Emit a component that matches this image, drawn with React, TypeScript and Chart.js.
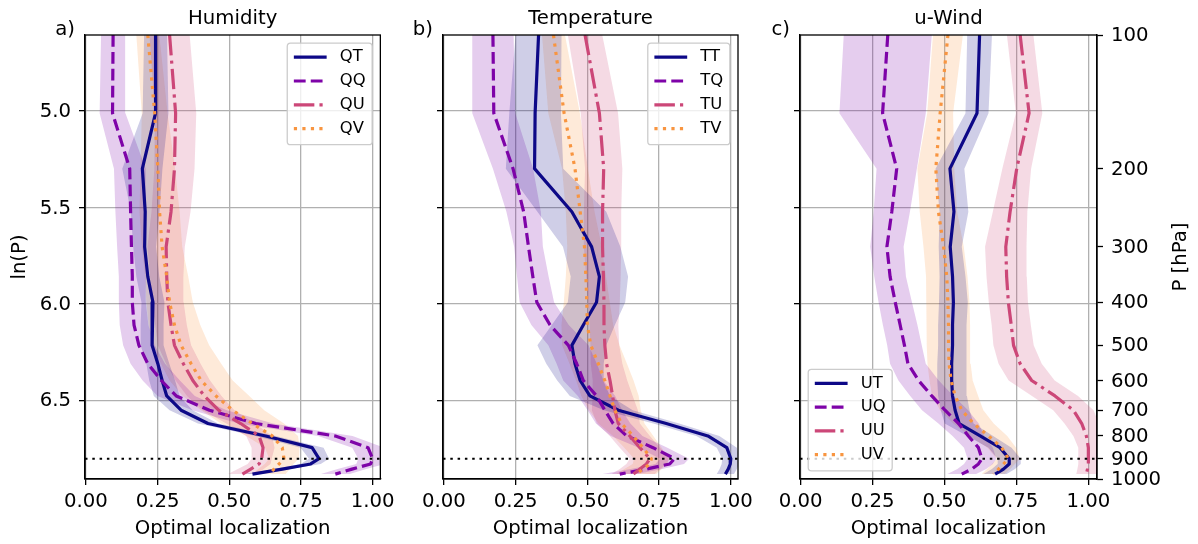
import React, { useEffect, useRef } from "react";
import { Chart, registerables } from "chart.js";

Chart.register(...registerables);

// ---------------- data ----------------
const LEVELS_HPA = [100, 150, 200, 250, 300, 350, 400, 450, 500, 550, 600, 650, 700, 750, 800, 850, 900, 925, 950, 975];
const X_TICKS = [0, 0.25, 0.5, 0.75, 1.0];
const LNP_TICKS = [5.0, 5.5, 6.0, 6.5];
const P_TICKS = [100, 200, 300, 400, 500, 600, 700, 800, 900, 1000];
const P_TOP = 100;
const P_BOTTOM = 1000;
const P_REF = 900;

// a) Humidity
const QT = [0.243, 0.243, 0.197, 0.207, 0.205, 0.216, 0.234, 0.231, 0.231, 0.251, 0.266, 0.282, 0.332, 0.426, 0.627, 0.789, 0.813, 0.784, 0.685, 0.581];
const QQ = [0.095, 0.093, 0.153, 0.156, 0.159, 0.162, 0.162, 0.168, 0.185, 0.216, 0.263, 0.315, 0.431, 0.593, 0.870, 0.984, 1.0, 0.993, 0.928, 0.870];
const QU = [0.292, 0.313, 0.309, 0.297, 0.280, 0.282, 0.286, 0.297, 0.309, 0.340, 0.373, 0.413, 0.463, 0.540, 0.604, 0.618, 0.613, 0.604, 0.575, 0.546];
const QV = [0.216, 0.240, 0.251, 0.257, 0.266, 0.282, 0.292, 0.309, 0.332, 0.367, 0.402, 0.454, 0.512, 0.581, 0.650, 0.685, 0.691, 0.674, 0.656, 0.639];
const QT_SPREAD = [0.04, 0.045, 0.07, 0.05, 0.04, 0.04, 0.04, 0.04, 0.04, 0.04, 0.045, 0.045, 0.04, 0.035, 0.035, 0.04, 0.035, 0.035, 0.03, 0.03];
const QQ_SPREAD = [0.042, 0.045, 0.055, 0.053, 0.05, 0.047, 0.047, 0.05, 0.055, 0.06, 0.065, 0.065, 0.06, 0.06, 0.06, 0.055, 0.05, 0.05, 0.05, 0.05];
const QU_SPREAD = [0.07, 0.072, 0.07, 0.068, 0.065, 0.058, 0.055, 0.055, 0.058, 0.06, 0.06, 0.06, 0.055, 0.05, 0.045, 0.04, 0.035, 0.04, 0.045, 0.05];
const QV_SPREAD = [0.04, 0.045, 0.06, 0.07, 0.07, 0.075, 0.081, 0.09, 0.098, 0.105, 0.11, 0.116, 0.11, 0.11, 0.09, 0.06, 0.052, 0.05, 0.055, 0.058];

// b) Temperature
const TT = [0.330, 0.318, 0.316, 0.446, 0.515, 0.542, 0.532, 0.486, 0.446, 0.457, 0.475, 0.509, 0.608, 0.775, 0.920, 0.986, 1.0, 0.998, 0.991, 0.981];
const TQ = [0.171, 0.174, 0.241, 0.278, 0.295, 0.310, 0.324, 0.370, 0.434, 0.463, 0.486, 0.532, 0.561, 0.590, 0.637, 0.729, 0.804, 0.787, 0.706, 0.613];
const TU = [0.492, 0.542, 0.557, 0.553, 0.553, 0.556, 0.558, 0.558, 0.561, 0.567, 0.579, 0.588, 0.596, 0.608, 0.648, 0.683, 0.718, 0.706, 0.683, 0.660];
const TV = [0.382, 0.419, 0.457, 0.475, 0.490, 0.495, 0.498, 0.500, 0.512, 0.538, 0.561, 0.579, 0.596, 0.619, 0.660, 0.694, 0.723, 0.718, 0.694, 0.671];
const TT_SPREAD = [0.08, 0.09, 0.1, 0.12, 0.1, 0.1, 0.1, 0.11, 0.12, 0.1, 0.08, 0.07, 0.05, 0.045, 0.04, 0.035, 0.03, 0.03, 0.03, 0.03];
const TQ_SPREAD = [0.072, 0.075, 0.07, 0.06, 0.05, 0.055, 0.06, 0.065, 0.07, 0.07, 0.07, 0.065, 0.06, 0.06, 0.055, 0.05, 0.05, 0.05, 0.055, 0.06];
const TU_SPREAD = [0.06, 0.065, 0.065, 0.065, 0.065, 0.06, 0.055, 0.05, 0.05, 0.055, 0.06, 0.07, 0.08, 0.075, 0.07, 0.07, 0.07, 0.07, 0.07, 0.075];
const TV_SPREAD = [0.04, 0.055, 0.045, 0.05, 0.06, 0.07, 0.08, 0.09, 0.1, 0.1, 0.1, 0.1, 0.09, 0.08, 0.07, 0.065, 0.06, 0.06, 0.065, 0.07];

// c) u-Wind
const UT = [0.622, 0.613, 0.519, 0.533, 0.520, 0.528, 0.531, 0.528, 0.528, 0.525, 0.525, 0.528, 0.537, 0.551, 0.624, 0.693, 0.725, 0.725, 0.705, 0.676];
const UQ = [0.303, 0.285, 0.334, 0.317, 0.300, 0.311, 0.329, 0.346, 0.361, 0.373, 0.410, 0.456, 0.502, 0.549, 0.583, 0.618, 0.630, 0.618, 0.595, 0.560];
const UU = [0.763, 0.794, 0.751, 0.728, 0.713, 0.716, 0.722, 0.732, 0.740, 0.763, 0.803, 0.884, 0.948, 0.977, 0.993, 1.0, 1.0, 1.0, 0.997, 0.993];
const UV = [0.512, 0.485, 0.470, 0.479, 0.497, 0.508, 0.512, 0.514, 0.514, 0.516, 0.523, 0.537, 0.560, 0.601, 0.653, 0.699, 0.722, 0.705, 0.688, 0.670];
const UT_SPREAD = [0.043, 0.04, 0.05, 0.05, 0.04, 0.045, 0.05, 0.05, 0.05, 0.05, 0.05, 0.05, 0.05, 0.05, 0.045, 0.04, 0.04, 0.04, 0.04, 0.04];
const UQ_SPREAD = [0.153, 0.15, 0.07, 0.063, 0.058, 0.055, 0.058, 0.06, 0.06, 0.062, 0.07, 0.075, 0.08, 0.07, 0.055, 0.05, 0.05, 0.05, 0.05, 0.05];
const UU_SPREAD = [0.046, 0.046, 0.05, 0.06, 0.072, 0.07, 0.068, 0.068, 0.07, 0.075, 0.08, 0.08, 0.07, 0.06, 0.045, 0.035, 0.035, 0.035, 0.035, 0.035];
const UV_SPREAD = [0.052, 0.045, 0.064, 0.065, 0.07, 0.072, 0.075, 0.075, 0.075, 0.075, 0.075, 0.08, 0.075, 0.07, 0.065, 0.05, 0.04, 0.04, 0.04, 0.04];

// ---------------- styles ----------------
const FONT = "'DejaVu Sans'";
const FS = 19.7;
const LEGEND_FS = 16.4;
const TITLE_FS = 19.7;
const H = 544;
const LW = 3.2;
const COLORS = ["#0d0887", "#7e03a8", "#cc4778", "#f89540"];
const BAND_COLORS = ["rgba(13,8,135,0.2)", "rgba(126,3,168,0.2)", "rgba(204,71,120,0.2)", "rgba(248,149,64,0.2)"];
const DASHES: number[][] = [[], [11.8, 5.1], [20.5, 5.1, 3.2, 5.1], [3.2, 5.3]];
const GRID = "#b0b0b0";

type Series = { label: string; values: number[]; spread: number[] };
type PanelCfg = {
  letter: string;
  title: string;
  series: Series[];
  legend: "upper right" | "lower left";
  leftLabels: boolean;
  rightAxis: boolean;
  xMin: number;
  xMax: number;
  canvasLeft: number;
  canvasWidth: number;
  leftAxisWidth: number;
  rightPad: number;
};

const PANELS: PanelCfg[] = [
  {
    letter: "a)", title: "Humidity", legend: "upper right", leftLabels: true, rightAxis: false,
    xMin: -0.003, xMax: 1.027, canvasLeft: 0, canvasWidth: 400, leftAxisWidth: 85, rightPad: 18,
    series: [
      { label: "QT", values: QT, spread: QT_SPREAD },
      { label: "QQ", values: QQ, spread: QQ_SPREAD },
      { label: "QU", values: QU, spread: QU_SPREAD },
      { label: "QV", values: QV, spread: QV_SPREAD },
    ],
  },
  {
    letter: "b)", title: "Temperature", legend: "upper right", leftLabels: false, rightAxis: false,
    xMin: -0.003, xMax: 1.025, canvasLeft: 400, canvasWidth: 360, leftAxisWidth: 43, rightPad: 22,
    series: [
      { label: "TT", values: TT, spread: TT_SPREAD },
      { label: "TQ", values: TQ, spread: TQ_SPREAD },
      { label: "TU", values: TU, spread: TU_SPREAD },
      { label: "TV", values: TV, spread: TV_SPREAD },
    ],
  },
  {
    letter: "c)", title: "u-Wind", legend: "lower left", leftLabels: false, rightAxis: true,
    xMin: -0.002, xMax: 1.03, canvasLeft: 760, canvasWidth: 438, leftAxisWidth: 40, rightPad: 0,
    series: [
      { label: "UT", values: UT, spread: UT_SPREAD },
      { label: "UQ", values: UQ, spread: UQ_SPREAD },
      { label: "UU", values: UU, spread: UU_SPREAD },
      { label: "UV", values: UV, spread: UV_SPREAD },
    ],
  },
];

// ---------------- decoration plugin ----------------
const decorPlugin = {
  id: "decor",
  afterDraw(chart: any, _args: any, opts: any) {
    const ctx: CanvasRenderingContext2D = chart.ctx;
    const a = chart.chartArea;
    ctx.save();
    ctx.setLineDash([]);
    ctx.strokeStyle = "#000";
    ctx.lineWidth = 1.3;
    ctx.strokeRect(a.left, a.top, a.right - a.left, a.bottom - a.top);

    ctx.fillStyle = "#000";
    ctx.font = `${TITLE_FS}px ${FONT}`;
    ctx.textBaseline = "alphabetic";
    ctx.textAlign = "center";
    ctx.fillText(opts.title, (a.left + a.right) / 2, a.top - 11);
    ctx.textAlign = "right";
    ctx.fillText(opts.letter, a.left - 10, a.top);

    if (opts.rightTitle) {
      ctx.save();
      ctx.font = `${FS}px ${FONT}`;
      ctx.translate(a.right + 83.5, (a.top + a.bottom) / 2);
      ctx.rotate(-Math.PI / 2);
      ctx.textAlign = "center";
      ctx.textBaseline = "middle";
      ctx.fillText(opts.rightTitle, 0, 0);
      ctx.restore();
    }

    // legend
    const items = chart.data.datasets
      .filter((d: any) => d.legendRank !== undefined)
      .sort((p: any, q: any) => p.legendRank - q.legendRank);
    ctx.font = `${LEGEND_FS}px ${FONT}`;
    const maxW = Math.max(...items.map((d: any) => ctx.measureText(d.label).width));
    const pad = 6.6, handleLen = 32.8, gap = 13.1, axPad = 8.2, pitch = 23.8;
    const w = pad + handleLen + gap + maxW + pad;
    const h = 101.5;
    const left = opts.legend === "upper right" ? a.right - axPad - w : a.left + axPad;
    const top = opts.legend === "upper right" ? a.top + axPad : a.bottom - axPad - h;
    ctx.beginPath();
    if ((ctx as any).roundRect) (ctx as any).roundRect(left, top, w, h, 3.3);
    else ctx.rect(left, top, w, h);
    ctx.fillStyle = "rgba(255,255,255,0.8)";
    ctx.fill();
    ctx.strokeStyle = "#cccccc";
    ctx.lineWidth = 1.3;
    ctx.stroke();
    items.forEach((d: any, i: number) => {
      const cy = top + 14 + i * pitch;
      ctx.beginPath();
      ctx.strokeStyle = d.borderColor;
      ctx.lineWidth = d.borderWidth;
      ctx.setLineDash(d.borderDash || []);
      ctx.lineCap = "butt";
      ctx.moveTo(left + pad, cy);
      ctx.lineTo(left + pad + handleLen, cy);
      ctx.stroke();
      ctx.setLineDash([]);
      ctx.fillStyle = "#000";
      ctx.textAlign = "left";
      ctx.textBaseline = "middle";
      ctx.fillText(d.label, left + pad + handleLen + gap, cy);
    });
    ctx.restore();
  },
};

function Panel({ cfg }: { cfg: PanelCfg }) {
  const ref = useRef<HTMLCanvasElement>(null);
  useEffect(() => {
    const canvas = ref.current;
    if (!canvas) return;
    const lnP = LEVELS_HPA.map((p) => Math.log(p));
    const datasets: any[] = [];
    // reference level (dotted)
    datasets.push({
      label: "ref",
      data: [
        { x: cfg.xMin, y: Math.log(P_REF) },
        { x: cfg.xMax, y: Math.log(P_REF) },
      ],
      borderColor: "#000",
      borderWidth: 2,
      borderDash: [2.5, 4.8],
      pointRadius: 0,
      fill: false,
      order: 0,
    });
    cfg.series.forEach((s, k) => {
      datasets.push({
        label: s.label,
        legendRank: k,
        data: s.values.map((v, i) => ({ x: v, y: lnP[i] })),
        borderColor: COLORS[k],
        backgroundColor: COLORS[k],
        borderWidth: LW,
        borderDash: DASHES[k],
        borderCapStyle: "butt",
        borderJoinStyle: "round",
        pointRadius: 0,
        fill: false,
        order: 4 - k,
      });
      const lower = s.values.map((v, i) => ({ x: v - s.spread[i], y: lnP[i] }));
      const upper = s.values.map((v, i) => ({ x: v + s.spread[i], y: lnP[i] })).reverse();
      datasets.push({
        label: s.label + " band",
        data: [...lower, ...upper],
        borderWidth: 0,
        borderColor: "rgba(0,0,0,0)",
        backgroundColor: BAND_COLORS[k],
        pointRadius: 0,
        fill: "shape",
        order: 10 + k,
      });
    });

    const tickFont = { family: FONT, size: FS };
    const scales: any = {
      x: {
        type: "linear",
        position: "bottom",
        min: cfg.xMin,
        max: cfg.xMax,
        afterBuildTicks: (ax: any) => {
          ax.ticks = X_TICKS.map((v) => ({ value: v }));
        },
        afterFit: (s: any) => {
          s.height = 65;
        },
        grid: { color: GRID, lineWidth: 1.3, drawTicks: true, tickLength: 6, tickColor: "#000", tickWidth: 1.3 },
        border: { display: true, color: "#000", width: 1.3 },
        ticks: {
          color: "#000",
          font: tickFont,
          padding: 5,
          maxRotation: 0,
          autoSkip: false,
          callback: (v: any) => Number(v).toFixed(2),
        },
        title: {
          display: true,
          text: "Optimal localization",
          color: "#000",
          font: tickFont,
          padding: { top: 0, bottom: 3 },
        },
      },
      y: {
        type: "linear",
        position: "left",
        reverse: true,
        min: Math.log(P_TOP),
        max: Math.log(P_BOTTOM),
        afterBuildTicks: (ax: any) => {
          ax.ticks = LNP_TICKS.map((v) => ({ value: v }));
        },
        afterFit: (s: any) => {
          s.width = cfg.leftAxisWidth;
        },
        grid: { color: GRID, lineWidth: 1.3, drawTicks: true, tickLength: 6, tickColor: "#000", tickWidth: 1.3 },
        border: { display: true, color: "#000", width: 1.3 },
        ticks: {
          display: cfg.leftLabels,
          color: "#000",
          font: tickFont,
          padding: 8,
          labelOffset: 1,
          autoSkip: false,
          callback: (v: any) => Number(v).toFixed(1),
        },
        title: {
          display: cfg.leftLabels,
          text: "ln(P)",
          color: "#000",
          font: tickFont,
          padding: { top: 8, bottom: 0 },
        },
      },
    };
    if (cfg.rightAxis) {
      scales.y2 = {
        type: "linear",
        position: "right",
        reverse: true,
        min: Math.log(P_TOP),
        max: Math.log(P_BOTTOM),
        afterBuildTicks: (ax: any) => {
          ax.ticks = P_TICKS.map((p) => ({ value: Math.log(p) }));
        },
        afterFit: (s: any) => {
          s.width = 101;
        },
        grid: { drawOnChartArea: false, drawTicks: true, tickLength: 6, tickColor: "#000", tickWidth: 1.3 },
        border: { display: true, color: "#000", width: 1.3 },
        ticks: {
          color: "#000",
          font: tickFont,
          padding: 8,
          labelOffset: 1,
          autoSkip: false,
          callback: (v: any) => String(Math.round(Math.exp(Number(v)))),
        },
      };
    }

    const chart = new Chart(canvas, {
      type: "line",
      data: { datasets },
      plugins: [decorPlugin as any],
      options: {
        animation: false,
        responsive: false,
        maintainAspectRatio: false,
        indexAxis: "y",
        events: [],
        layout: { padding: { left: 0, right: cfg.rightPad, top: 35, bottom: 0 } },
        plugins: {
          legend: { display: false },
          tooltip: { enabled: false },
          title: { display: false },
          decor: {
            title: cfg.title,
            letter: cfg.letter,
            legend: cfg.legend,
            rightTitle: cfg.rightAxis ? "P [hPa]" : "",
          },
        } as any,
        scales,
      } as any,
    });
    return () => chart.destroy();
  }, [cfg]);
  return (
    <canvas
      ref={ref}
      width={cfg.canvasWidth}
      height={H}
      style={{ position: "absolute", left: cfg.canvasLeft, top: 0, width: cfg.canvasWidth, height: H }}
    />
  );
}

export default function App() {
  return (
    <div style={{ position: "absolute", left: 0, top: 0, width: 1198, height: H, background: "#fff", overflow: "hidden" }}>
      {PANELS.map((p) => (
        <Panel key={p.letter} cfg={p} />
      ))}
    </div>
  );
}
